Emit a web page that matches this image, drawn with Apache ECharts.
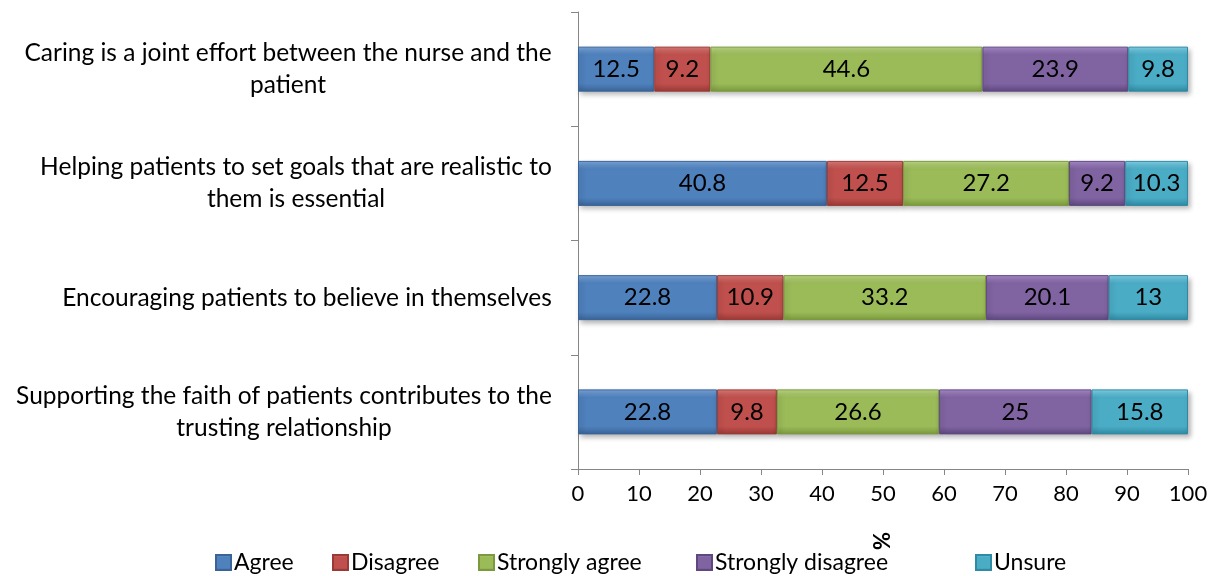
<!DOCTYPE html>
<html>
<head>
<meta charset="utf-8">
<script src="https://cdn.jsdelivr.net/npm/echarts@6/dist/echarts.min.js"></script>
<style>
  html, body { margin: 0; padding: 0; background: #fff; }
  #chart { width: 1217px; height: 576px; }
</style>
</head>
<body>
<div id="chart"></div>
<script>
  // statements, top to bottom
  const categories = [
    "Caring is a joint effort between the nurse and the\npatient",
    "Helping patients to set goals that are realistic to\nthem is essential",
    "Encouraging patients to believe in themselves",
    "Supporting the faith of patients contributes to the\ntrusting relationship"
  ];
  const seriesNames = ["Agree", "Disagree", "Strongly agree", "Strongly disagree", "Unsure"];
  const agree = [12.5, 40.8, 22.8, 22.8];
  const disagree = [9.2, 12.5, 10.9, 9.8];
  const stronglyAgree = [44.6, 27.2, 33.2, 26.6];
  const stronglyDisagree = [23.9, 9.2, 20.1, 25];
  const unsure = [9.8, 10.3, 13, 15.8];
  const xTicks = [0, 100, 10]; // min, max, interval

  const values = [agree, disagree, stronglyAgree, stronglyDisagree, unsure];
  const colors = [
    ["#7aa6db", "#4f81bd", "#3a6497"],
    ["#dc7b78", "#c0504d", "#9a3a37"],
    ["#bcd884", "#9bbb59", "#7a9a3d"],
    ["#a98ccc", "#8064a2", "#5f4880"],
    ["#7fd4ea", "#4bacc6", "#2f8aa3"]
  ];
  const legendLeft = [210, 327, 473, 691, 970];
  const font = "Lato, 'Open Sans', sans-serif";
  const catSize = 24.5;

  const bevel = (c) => new echarts.graphic.LinearGradient(0, 0, 0, 1, [
    { offset: 0, color: c[0] },
    { offset: 0.18, color: c[1] },
    { offset: 0.82, color: c[1] },
    { offset: 1, color: c[2] }
  ]);

  // lines of each wrapped label are centred on each other, block sits right
  const ctx = document.createElement("canvas").getContext("2d");
  ctx.font = catSize + "px " + font;
  const rich = {};
  categories.forEach((c, i) => {
    const w = Math.max(...c.split("\n").map(s => ctx.measureText(s).width));
    rich["c" + i] = {
      width: Math.ceil(w), align: "center", fontFamily: font,
      fontSize: catSize, color: "#000", lineHeight: 32
    };
  });

  const series = seriesNames.map((name, i) => ({
    name: name,
    type: "bar",
    stack: "total",
    barWidth: 45,
    data: values[i],
    itemStyle: {
      color: bevel(colors[i]),
      borderColor: colors[i][2],
      borderWidth: 1,
      shadowColor: "rgba(0,0,0,0.3)",
      shadowBlur: 5,
      shadowOffsetX: 2,
      shadowOffsetY: 3
    },
    label: {
      show: true,
      position: "inside",
      color: "#000",
      fontFamily: font,
      fontSize: 24
    }
  }));

  // one legend per item so each sits where it does in the original
  const legends = seriesNames.map((name, i) => ({
    left: legendLeft[i],
    bottom: -3,
    icon: "rect",
    itemWidth: 15,
    itemHeight: 15,
    data: [name],
    textStyle: { fontFamily: font, fontSize: 23, color: "#000", padding: [0, 0, 0, -2] }
  }));

  const chart = echarts.init(document.getElementById("chart"));
  chart.setOption({
    backgroundColor: "#fff",
    color: colors.map(c => c[1]),
    grid: { left: 578, right: 29, top: 12, bottom: 107 },
    legend: legends,
    xAxis: {
      type: "value",
      min: xTicks[0],
      max: xTicks[1],
      interval: xTicks[2],
      name: "%",
      nameLocation: "middle",
      nameGap: 63,
      nameRotate: 90,
      nameTextStyle: { fontFamily: font, fontSize: 22, color: "#000", fontWeight: "bold" },
      axisLine: { show: true, lineStyle: { color: "#868686" } },
      axisTick: { show: true, length: 6, lineStyle: { color: "#868686" } },
      axisLabel: { fontFamily: font, fontSize: 22, color: "#000", margin: 14 },
      splitLine: { show: false }
    },
    yAxis: {
      type: "category",
      inverse: true,
      data: categories,
      axisLine: { show: true, lineStyle: { color: "#868686" } },
      axisTick: { show: true, length: 7, lineStyle: { color: "#868686" } },
      axisLabel: {
        margin: 26,
        align: "right",
        formatter: (v, i) => v.split("\n").map(s => "{c" + i + "|" + s + "}").join("\n"),
        rich: rich
      }
    },
    series: series
  });
</script>
</body>
</html>
